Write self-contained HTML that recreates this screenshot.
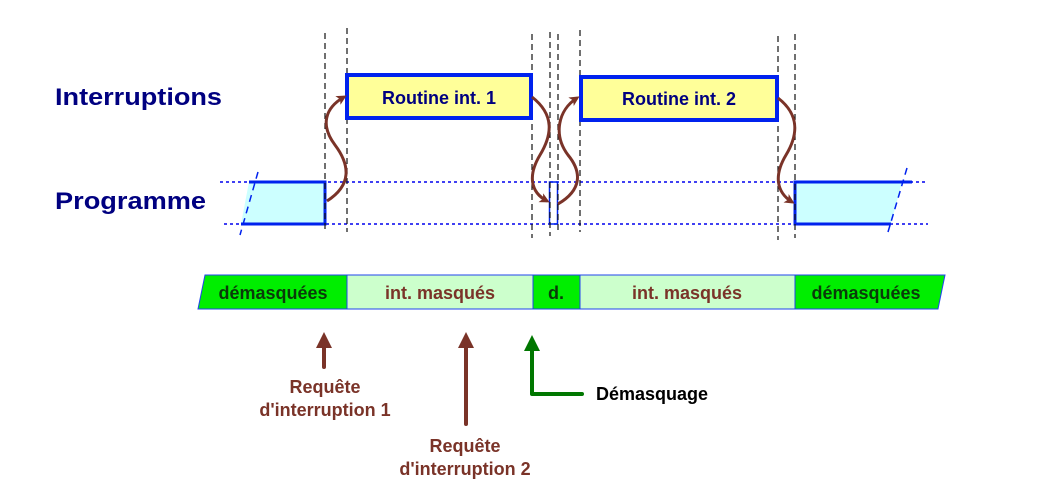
<!DOCTYPE html>
<html><head><meta charset="utf-8"><style>
html,body{margin:0;padding:0;background:#fff;}
svg{display:block;font-family:"Liberation Sans",Arial,sans-serif;font-weight:bold;}
</style></head><body>
<svg width="1053" height="494" viewBox="0 0 1053 494" xmlns="http://www.w3.org/2000/svg">
<defs>
<marker id="ab" markerWidth="10" markerHeight="10" refX="7" refY="5" orient="auto" markerUnits="userSpaceOnUse" viewBox="0 0 10 10"><path d="M0,0 L10,5 L0,10 L2.5,5 Z" fill="#7a3328"/></marker>
</defs>
<text x="55" y="105" font-size="24" fill="#000080" textLength="167" lengthAdjust="spacingAndGlyphs">Interruptions</text>
<text x="55" y="209" font-size="24" fill="#000080" textLength="151" lengthAdjust="spacingAndGlyphs">Programme</text>

<line x1="220" y1="182" x2="925" y2="182" stroke="#0000ee" stroke-width="1.5" stroke-dasharray="3,3"/>
<line x1="224" y1="224" x2="928" y2="224" stroke="#0000ee" stroke-width="1.5" stroke-dasharray="3,3"/>

<polygon points="249,182 325,182 325,224 241,224" fill="#ccffff"/>
<polyline points="249,182 325,182 325,224 241,224" fill="none" stroke="#0022ee" stroke-width="3"/>
<line x1="258" y1="172" x2="240" y2="235" stroke="#0022ee" stroke-width="1.5" stroke-dasharray="7,5"/>
<rect x="549.5" y="182" width="8" height="42" fill="none" stroke="#0022ee" stroke-width="1.5"/>
<polygon points="795,182 902,182 891,224 795,224" fill="#ccffff"/>
<polyline points="912,182 795,182 795,224 891,224" fill="none" stroke="#0022ee" stroke-width="3"/>
<line x1="907" y1="168" x2="888" y2="232" stroke="#0022ee" stroke-width="1.5" stroke-dasharray="7,5"/>

<g stroke="#111" stroke-width="1.2" stroke-dasharray="6,4">
<line x1="325" y1="33" x2="325" y2="230"/>
<line x1="347" y1="28" x2="347" y2="232"/>
<line x1="532" y1="34" x2="532" y2="238"/>
<line x1="550" y1="32" x2="550" y2="236"/>
<line x1="558" y1="34" x2="558" y2="234"/>
<line x1="580" y1="30" x2="580" y2="232"/>
<line x1="778" y1="36" x2="778" y2="240"/>
<line x1="795" y1="34" x2="795" y2="238"/>
</g>

<rect x="347" y="75" width="184" height="43" fill="#ffff99" stroke="#0022ee" stroke-width="4"/>
<text x="439" y="104" font-size="18" fill="#000080" text-anchor="middle">Routine int. 1</text>
<rect x="581" y="77" width="196" height="43" fill="#ffff99" stroke="#0022ee" stroke-width="4"/>
<text x="679" y="105" font-size="18" fill="#000080" text-anchor="middle">Routine int. 2</text>

<g fill="none" stroke="#7a3328" stroke-width="3" marker-end="url(#ab)">
<path d="M327,201 C352,185 350,165 335,145 C320,125 325,108 344,97"/>
<path d="M532,97 C555,115 552,135 540,155 C528,175 530,192 547,201"/>
<path d="M558,204 C582,190 582,172 568,155 C553,135 558,110 577,98"/>
<path d="M778,98 C800,115 798,135 786,155 C774,175 776,192 792,202"/>
</g>

<polygon points="205,275 347,275 347,309 198,309" fill="#00ee00" stroke="#2244ee" stroke-width="1"/>
<rect x="347" y="275" width="186" height="34" fill="#ccffcc" stroke="#2244ee" stroke-width="1"/>
<rect x="533" y="275" width="47" height="34" fill="#00ee00" stroke="#2244ee" stroke-width="1"/>
<rect x="580" y="275" width="215" height="34" fill="#ccffcc" stroke="#2244ee" stroke-width="1"/>
<polygon points="795,275 945,275 938,309 795,309" fill="#00ee00" stroke="#2244ee" stroke-width="1"/>
<g font-size="18">
<text x="273" y="299" text-anchor="middle" fill="#0a3a0a">démasquées</text>
<text x="440" y="299" text-anchor="middle" fill="#7a3328">int. masqués</text>
<text x="556" y="299" text-anchor="middle" fill="#0a3a0a">d.</text>
<text x="687" y="299" text-anchor="middle" fill="#7a3328">int. masqués</text>
<text x="866" y="299" text-anchor="middle" fill="#0a3a0a">démasquées</text>
</g>

<line x1="324" y1="367" x2="324" y2="345" stroke="#7a3328" stroke-width="4" stroke-linecap="round"/>
<polygon points="316,348 324,332 332,348" fill="#7a3328"/>
<line x1="466" y1="424" x2="466" y2="345" stroke="#7a3328" stroke-width="4" stroke-linecap="round"/>
<polygon points="458,348 466,332 474,348" fill="#7a3328"/>
<polyline points="582,394 532,394 532,348" fill="none" stroke="#007700" stroke-width="4" stroke-linecap="round" stroke-linejoin="round"/>
<polygon points="524,351 532,335 540,351" fill="#007700"/>

<g font-size="18" fill="#7a3328" text-anchor="middle">
<text x="325" y="393">Requête</text>
<text x="325" y="416">d'interruption 1</text>
<text x="465" y="452">Requête</text>
<text x="465" y="475">d'interruption 2</text>
</g>
<text x="596" y="400" font-size="18" fill="#000">Démasquage</text>
</svg>
</body></html>
